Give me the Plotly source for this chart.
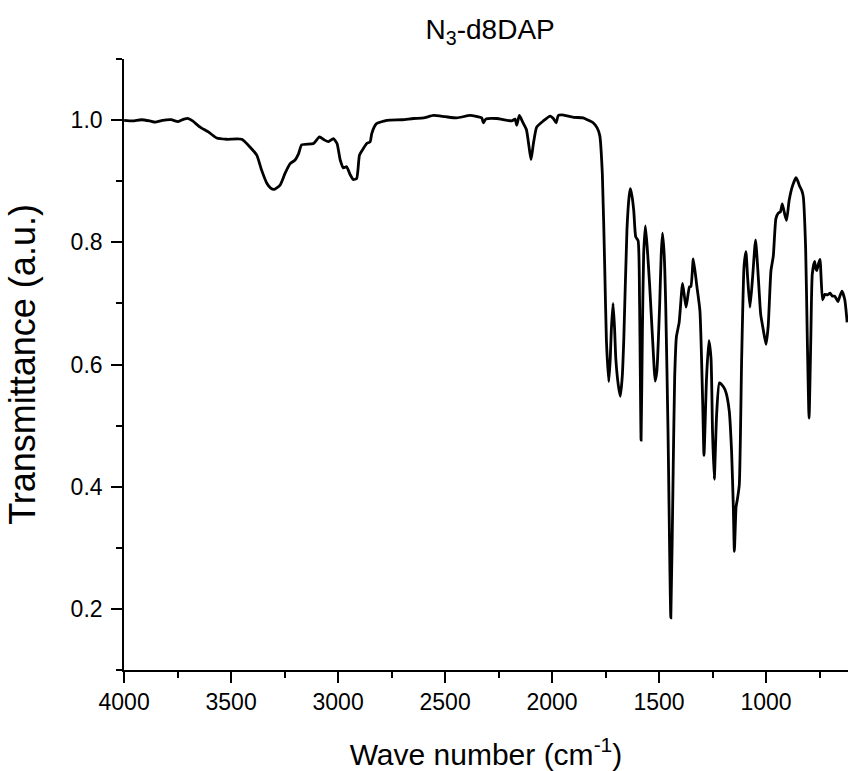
import plotly.graph_objects as go

wavenumber = [
    4000, 3960, 3920, 3880, 3855, 3820, 3780, 3748, 3720, 3700, 3680, 3645, 3606, 3567, 3520, 3450,
    3411, 3380, 3357, 3333, 3315, 3299, 3271, 3248, 3224, 3201, 3185, 3170, 3115, 3087, 3065, 3045,
    3022, 3005, 2990, 2975, 2960, 2945, 2929, 2913, 2900, 2882, 2866, 2850, 2843, 2830, 2819, 2772,
    2700, 2648, 2600, 2554, 2500, 2445, 2383, 2329, 2321, 2310, 2259, 2189, 2173, 2165, 2153, 2137,
    2120, 2105, 2098, 2088, 2072, 2041, 2009, 1994, 1981, 1971, 1955, 1900, 1855, 1830, 1808, 1790,
    1777, 1765, 1754, 1746, 1735, 1728, 1723, 1715, 1708, 1702, 1690, 1681, 1672, 1665, 1650, 1640,
    1634, 1626, 1618, 1609, 1598, 1591, 1584, 1578, 1572, 1564, 1555, 1544, 1530, 1518, 1510, 1497,
    1490, 1484, 1476, 1469, 1458, 1445, 1434, 1427, 1419, 1406, 1390, 1374, 1358, 1351, 1340, 1324,
    1309, 1296, 1290, 1278, 1267, 1257, 1250, 1242, 1231, 1218, 1200, 1187, 1172, 1161, 1153, 1148,
    1140, 1134, 1125, 1114, 1103, 1094, 1086, 1075, 1063, 1049, 1036, 1025, 1013, 1000, 990, 977,
    966, 954, 943, 933, 924, 912, 904, 892, 876, 860, 851, 844, 833, 826, 815, 807,
    799, 791, 784, 773, 768, 763, 755, 748, 736, 725, 712, 701, 690, 679, 664, 655,
    645, 632, 621,
]
transmittance = [
    1.000, 0.999, 1.001, 0.999, 0.997, 1.000, 1.001, 0.998, 1.002, 1.003, 0.999, 0.989, 0.981, 0.971, 0.969, 0.969,
    0.956, 0.943, 0.918, 0.897, 0.889, 0.887, 0.894, 0.913, 0.929, 0.935, 0.945, 0.960, 0.962, 0.973, 0.968, 0.965,
    0.970, 0.962, 0.935, 0.922, 0.924, 0.912, 0.903, 0.905, 0.943, 0.954, 0.962, 0.965, 0.978, 0.990, 0.995, 1.000,
    1.001, 1.003, 1.004, 1.008, 1.006, 1.004, 1.008, 1.004, 0.996, 1.002, 1.003, 0.999, 1.002, 0.992, 1.008, 0.997,
    0.985, 0.950, 0.936, 0.960, 0.989, 0.999, 1.007, 1.003, 0.996, 1.008, 1.009, 1.005, 1.004, 1.000, 0.996, 0.988,
    0.975, 0.912, 0.760, 0.639, 0.572, 0.610, 0.657, 0.700, 0.660, 0.609, 0.565, 0.548, 0.580, 0.639, 0.821, 0.875,
    0.888, 0.875, 0.851, 0.809, 0.803, 0.700, 0.476, 0.650, 0.780, 0.827, 0.790, 0.730, 0.640, 0.573, 0.590, 0.700,
    0.780, 0.815, 0.780, 0.700, 0.488, 0.185, 0.427, 0.579, 0.645, 0.669, 0.733, 0.694, 0.727, 0.728, 0.773, 0.730,
    0.688, 0.536, 0.451, 0.579, 0.639, 0.609, 0.488, 0.412, 0.518, 0.570, 0.564, 0.554, 0.524, 0.457, 0.367, 0.294,
    0.367, 0.379, 0.403, 0.609, 0.760, 0.785, 0.742, 0.694, 0.742, 0.804, 0.742, 0.682, 0.657, 0.633, 0.663, 0.754,
    0.778, 0.839, 0.848, 0.850, 0.863, 0.845, 0.836, 0.869, 0.893, 0.906, 0.900, 0.893, 0.885, 0.875, 0.791, 0.639,
    0.512, 0.639, 0.748, 0.769, 0.758, 0.754, 0.765, 0.772, 0.706, 0.715, 0.714, 0.717, 0.712, 0.712, 0.703, 0.712,
    0.720, 0.706, 0.669,
]

x_tick_values = [4000, 3500, 3000, 2500, 2000, 1500, 1000]
y_tick_values = [0.2, 0.4, 0.6, 0.8, 1.0]

FONT = "Liberation Sans, Arial, sans-serif"

fig = go.Figure()
fig.add_trace(go.Scatter(
    x=wavenumber, y=transmittance, mode="lines",
    line=dict(color="black", width=2.8, shape="spline", smoothing=0.5),
    showlegend=False,
))

fig.update_layout(
    width=848, height=771,
    margin=dict(l=124, r=0, t=59, b=101),
    paper_bgcolor="white", plot_bgcolor="white",
    font=dict(family=FONT, color="black", size=23),
    title=dict(text="N<sub>3</sub>-d8DAP", x=0.578, xanchor="center", y=0.962, yanchor="middle",
               font=dict(family=FONT, size=28, color="black")),
)
fig.update_xaxes(
    range=[4000.5, 617], tickvals=x_tick_values, ticks="outside", ticklen=11, tickwidth=1.6,
    tickcolor="black", showline=True, linewidth=1.6, linecolor="black", showgrid=False, zeroline=False,
    tickfont=dict(family=FONT, size=23, color="black"), ticklabelstandoff=0,
    minor=dict(ticks="outside", ticklen=6, tickwidth=1.6, tickcolor="black", dtick=250, tick0=0, showgrid=False),
    title=dict(text="Wave number (cm<sup>-1</sup>)", font=dict(family=FONT, size=30, color="black"), standoff=30),
)
fig.update_yaxes(
    range=[0.0995, 1.1005], tickvals=y_tick_values, tickformat=".1f", ticks="outside", ticklen=11, tickwidth=1.6,
    tickcolor="black", showline=True, linewidth=1.6, linecolor="black", showgrid=False, zeroline=False,
    tickfont=dict(family=FONT, size=23, color="black"), ticklabelstandoff=4,
    minor=dict(ticks="outside", ticklen=6, tickwidth=1.6, tickcolor="black", dtick=0.1, tick0=0, showgrid=False),
    title=dict(text="Transmittance (a.u.)", font=dict(family=FONT, size=36, color="black"), standoff=24),
)

fig.write_html("out.html", config={"displayModeBar": False},
               post_script="document.body.style.margin='0';")
